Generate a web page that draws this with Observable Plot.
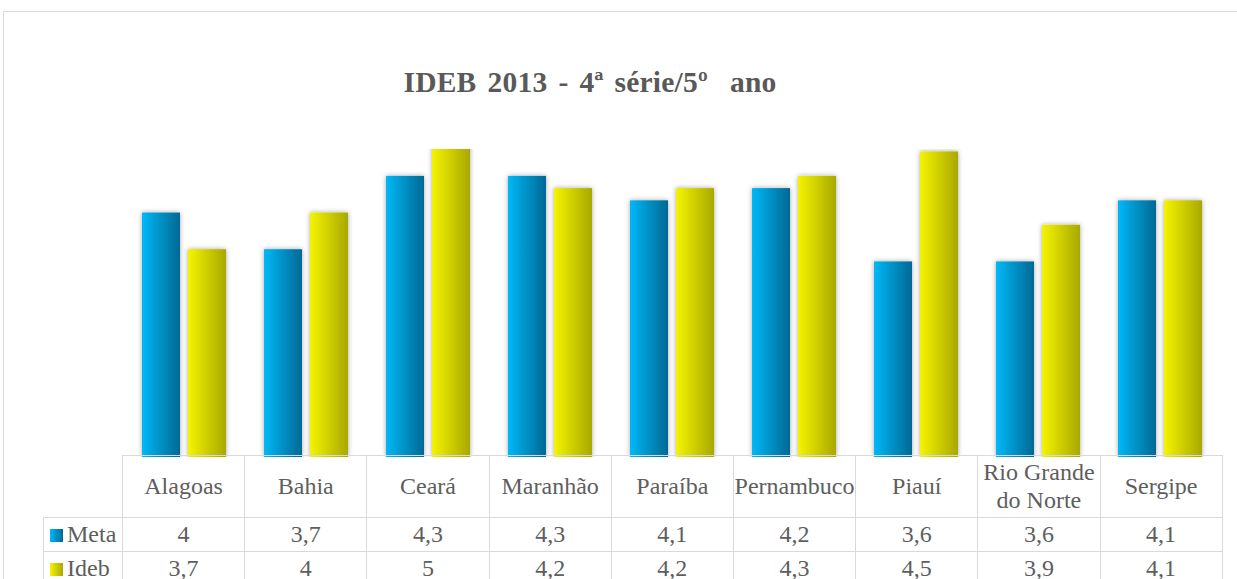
<!DOCTYPE html>
<html>
<head>
<meta charset="utf-8">
<script src="https://cdn.jsdelivr.net/npm/d3@7"></script>
<script src="https://cdn.jsdelivr.net/npm/@observablehq/plot@0.6"></script>
<style>
  html, body { margin: 0; padding: 0; background: #fff; }
  #wrap { position: relative; width: 1237px; height: 579px; overflow: hidden; font-family: "Liberation Serif", "DejaVu Serif", serif; }
  #frame { position: absolute; left: 3px; top: 11px; width: 1300px; height: 700px; border: 1px solid #d9d9d9; box-sizing: border-box; }
  #title { position: absolute; left: 590px; top: 68px; transform: translateX(-50%); white-space: pre; font-family: "Liberation Serif", serif; font-weight: bold; font-size: 29.5px; line-height: 1; color: #595959; letter-spacing: 0.2px; word-spacing: 3.5px; }
  #chart { position: absolute; left: 0; top: 0; }
  #tbl { position: absolute; left: 43px; top: 455px; border-collapse: collapse; table-layout: fixed; width: 1179px; }
  #tbl td { font-family: "Liberation Serif", serif; font-size: 24px; color: #5e5e5e; border: 1px solid #d9d9d9; text-align: center; padding: 0; line-height: 1.15; overflow: visible; white-space: nowrap; }
  #tbl tr.head td { height: 61px; }
  #tbl tr.row td { height: 33px; }
  #tbl td.blank { border-top: none; border-left: none; }
  #tbl td.lg { text-align: left; padding-left: 6px; }
  .key { display: inline-block; width: 13px; height: 13px; margin-right: 4px; vertical-align: 0px; }
</style>
</head>
<body>
<div id="wrap">
  <div id="frame"></div>
  <div id="title"></div>
  <div id="chart"></div>
  <table id="tbl"></table>
</div>
<script>
const categories = ["Alagoas", "Bahia", "Ceará", "Maranhão", "Paraíba", "Pernambuco", "Piauí", "Rio Grande do Norte", "Sergipe"];
const headerLabels = ["Alagoas", "Bahia", "Ceará", "Maranhão", "Paraíba", "Pernambuco", "Piauí", "Rio Grande<br>do Norte", "Sergipe"];
const seriesNames = ["Meta", "Ideb"];
const meta = [4, 3.7, 4.3, 4.3, 4.1, 4.2, 3.6, 3.6, 4.1];
const ideb = [3.7, 4, 5, 4.2, 4.2, 4.3, 4.5, 3.9, 4.1];
const metaLabels = ["4", "3,7", "4,3", "4,3", "4,1", "4,2", "3,6", "3,6", "4,1"];
const idebLabels = ["3,7", "4", "5", "4,2", "4,2", "4,3", "4,5", "3,9", "4,1"];
const titleText = "IDEB 2013 - 4ª série/5º  ano";

document.getElementById("title").textContent = titleText;

const metaData = categories.map((c, i) => ({cat: c, serie: "Meta", value: meta[i]}));
const idebData = categories.map((c, i) => ({cat: c, serie: "Ideb", value: ideb[i]}));

const svg = Plot.plot({
  width: 1237,
  height: 457,
  marginTop: 149,
  marginBottom: 0,
  marginLeft: 122,
  marginRight: 16,
  style: {overflow: "visible", background: "transparent"},
  fx: {domain: categories, padding: 0, axis: null},
  x: {domain: seriesNames, paddingInner: 0.17, paddingOuter: 0.383, axis: null},
  y: {domain: [2, 4.52], axis: null},
  marks: [
    Plot.barY(metaData, {fx: "cat", x: "serie", y1: 2, y2: "value", fill: "url(#gMeta)", clip: true}),
    Plot.barY(idebData, {fx: "cat", x: "serie", y1: 2, y2: "value", fill: "url(#gIdeb)", clip: true})
  ]
});

d3.select(svg).insert("defs", ":first-child").html(`
  <linearGradient id="gMeta" x1="0" y1="0" x2="1" y2="0">
    <stop offset="0" stop-color="#00b8f7"/>
    <stop offset="1" stop-color="#006894"/>
  </linearGradient>
  <linearGradient id="gIdeb" x1="0" y1="0" x2="1" y2="0">
    <stop offset="0" stop-color="#f4f400"/>
    <stop offset="1" stop-color="#a8a800"/>
  </linearGradient>
  <filter id="shadow" x="-30%" y="-10%" width="160%" height="120%">
    <feDropShadow dx="0" dy="0" stdDeviation="2.5" flood-color="#000" flood-opacity="0.35"/>
  </filter>
`);
d3.select(svg).selectAll("g[aria-label='bar'] rect").attr("filter", "url(#shadow)");
document.getElementById("chart").appendChild(svg);

// data table
const tbl = document.getElementById("tbl");
let html = '<colgroup><col style="width:79px">' + categories.map(() => '<col style="width:122.2px">').join("") + '</colgroup>';
html += '<tr class="head"><td class="blank"></td>' + headerLabels.map(l => `<td>${l}</td>`).join("") + '</tr>';
html += '<tr class="row"><td class="lg"><span class="key" style="background:linear-gradient(to right,#00b8f7,#006894)"></span>' + seriesNames[0] + '</td>' + metaLabels.map(v => `<td>${v}</td>`).join("") + '</tr>';
html += '<tr class="row"><td class="lg"><span class="key" style="background:linear-gradient(to right,#f4f400,#a8a800)"></span>' + seriesNames[1] + '</td>' + idebLabels.map(v => `<td>${v}</td>`).join("") + '</tr>';
tbl.innerHTML = html;
</script>
</body>
</html>
